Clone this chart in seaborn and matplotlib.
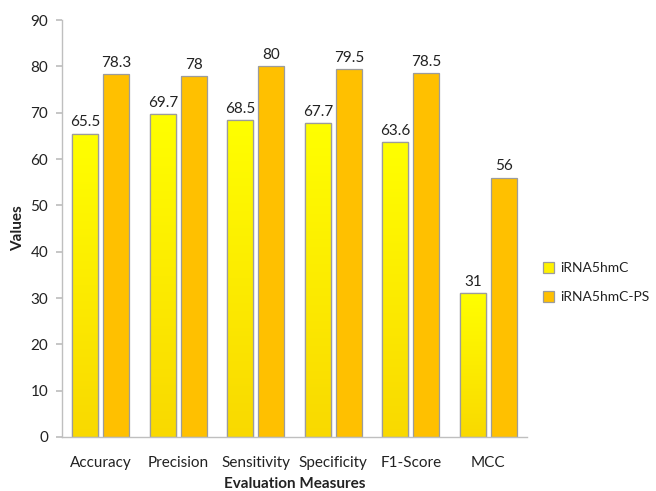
import numpy as np
import pandas as pd
import matplotlib
matplotlib.use("Agg")
import matplotlib.pyplot as plt
import seaborn as sns
from matplotlib.colors import LinearSegmentedColormap

measures = ["Accuracy", "Precision", "Sensitivity", "Specificity", "F1-Score", "MCC"]
irna5hmc = [65.5, 69.7, 68.5, 67.7, 63.6, 31]
irna5hmc_ps = [78.3, 78, 80, 79.5, 78.5, 56]
models = ["iRNA5hmC", "iRNA5hmC-PS"]

df = pd.DataFrame({
    "Measure": measures * 2,
    "Value": irna5hmc + irna5hmc_ps,
    "Model": [models[0]] * len(measures) + [models[1]] * len(measures),
})

sns.set_theme(style="white")
plt.rcParams["font.family"] = ["Lato", "DejaVu Sans"]

fig = plt.figure(figsize=(6.56, 4.91), dpi=100)
ax = fig.add_axes([0.0945, 0.11, 0.709, 0.849])

edge_col = "#9C9C9C"
palette = {models[0]: "#FFF200", models[1]: "#FFC000"}
sns.barplot(data=df, x="Measure", y="Value", hue="Model", palette=palette,
            order=measures, hue_order=models, width=0.8, gap=0.16,
            edgecolor=edge_col, linewidth=0.9, saturation=1, ax=ax)

# vertical gradient fill for the first series
grad = LinearSegmentedColormap.from_list("yel", ["#F9D900", "#FFFF00"])
gimg = np.linspace(0, 1, 256).reshape(-1, 1)
for bar in ax.containers[0]:
    x0, y0 = bar.get_x(), bar.get_y()
    w, h = bar.get_width(), bar.get_height()
    im = ax.imshow(gimg, cmap=grad, origin="lower", aspect="auto",
                   extent=[x0, x0 + w, y0, y0 + h], zorder=bar.get_zorder() + 0.1)
    im.set_clip_path(bar)
    ax.add_patch(plt.Rectangle((x0, y0), w, h, fill=False, edgecolor=edge_col,
                               linewidth=0.9, zorder=bar.get_zorder() + 0.2))

for cont in ax.containers:
    ax.bar_label(cont, labels=[f"{v:g}" for v in cont.datavalues], padding=3,
                 fontsize=11, color="#222222")

ax.set_xlim(-0.5, len(measures) - 0.5)
ax.set_ylim(0, 90)
ax.set_yticks(range(0, 91, 10))
ax.tick_params(axis="y", which="both", left=True, length=4, color="#BFBFBF",
               labelsize=11, labelcolor="#222222", pad=6)
ax.tick_params(axis="x", bottom=False, labelsize=11, labelcolor="#222222", pad=8)

for side in ["top", "right"]:
    ax.spines[side].set_visible(False)
for side in ["left", "bottom"]:
    ax.spines[side].set_color("#BFBFBF")
    ax.spines[side].set_linewidth(1.0)

ax.set_xlabel("Evaluation Measures", fontsize=11, fontweight="bold", color="#222222", labelpad=5)
ax.set_ylabel("Values", fontsize=11, fontweight="bold", color="#222222")
ax.yaxis.set_label_coords(-0.08, 0.5)

handles = [plt.Rectangle((0, 0), 1, 1, facecolor=palette[m], edgecolor=edge_col, linewidth=0.9)
           for m in models]
ax.legend(handles, models, loc="center left", bbox_to_anchor=(1.035, 0.37), frameon=False,
          fontsize=10, handlelength=0.8, handleheight=0.8, labelspacing=1.2,
          handletextpad=0.4, borderpad=0, borderaxespad=0, labelcolor="#222222")

fig.savefig("out.png", dpi=100)
